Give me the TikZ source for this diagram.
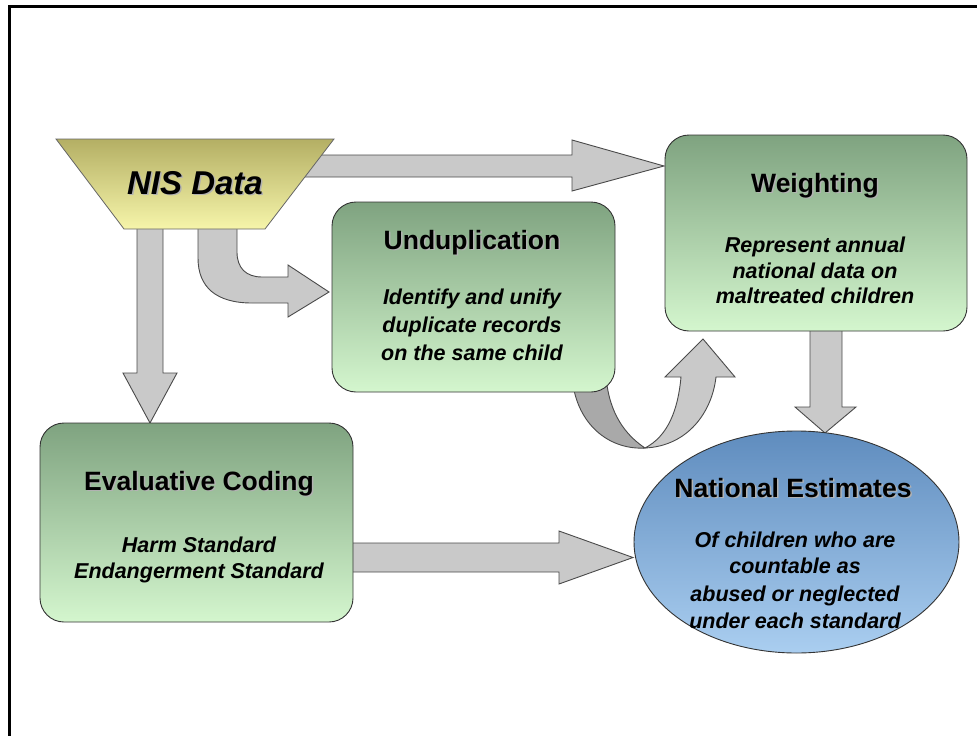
\documentclass[tikz,border=0pt]{standalone}
\usepackage{fontspec}
\setmainfont{Liberation Sans}
\usetikzlibrary{shapes.geometric}
\definecolor{gfill}{HTML}{C9C9C9}
\definecolor{gfilldark}{HTML}{A9A9A9}
\definecolor{gline}{HTML}{4A4A4A}
\definecolor{boxtop}{HTML}{7FA380}
\definecolor{boxbot}{HTML}{D4F6CE}
\definecolor{traptop}{HTML}{B4AF64}
\definecolor{trapbot}{HTML}{F6F5AA}
\definecolor{elltop}{HTML}{5F8CBE}
\definecolor{ellbot}{HTML}{AACEF0}
\tikzset{
  blockarrow/.style={fill=gfill, draw=gline, line width=0.9pt, line join=miter},
  greenbox/.style={draw=black!80, line width=0.9pt, rounded corners=24pt,
    top color=boxtop, bottom color=boxbot, inner sep=0pt},
  ttl/.style={font=\fontsize{26.5}{30}\selectfont\bfseries, anchor=base, inner sep=0pt},
  ttlsh/.style={ttl, text=black!30},
  bdy/.style={font=\fontsize{21.5}{27}\selectfont\bfseries\itshape, anchor=base, inner sep=0pt},
}
\begin{document}
\begin{tikzpicture}[x=1pt,y=-1pt]
\useasboundingbox (0,0) rectangle (977,736);
% frame (left and top only)
\draw[line width=3pt] (9.5,736) -- (9.5,6) -- (977,6);

% ---------- block arrows (behind the shapes) ----------
% NIS -> Weighting
\draw[blockarrow] (300,155) -- (572,155) -- (572,140) -- (664,166) -- (572,191) -- (572,177) -- (300,177) -- cycle;
% NIS -> Evaluative Coding
\draw[blockarrow] (137,225) -- (137,373) -- (123,373) -- (150,423) -- (177,373) -- (163,373) -- (163,225) -- cycle;
% NIS -> Unduplication (bent)
\draw[blockarrow] (198,225) -- (198,258) .. controls (198,287) and (216,303) .. (252,303)
  -- (288,303) -- (288,317) -- (329,292) -- (288,265) -- (288,277) -- (262,277)
  .. controls (246,277) and (237,268) .. (237,252) -- (237,225) -- cycle;
% Weighting -> National Estimates
\draw[blockarrow] (810,328) -- (810,407) -- (795,407) -- (825,433) -- (856,407) -- (842,407) -- (842,328) -- cycle;
% Evaluative Coding -> National Estimates
\draw[blockarrow] (350,543) -- (559,543) -- (559,531) -- (633,557.5) -- (559,584) -- (559,572) -- (350,572) -- cycle;
% Unduplication -> Weighting (U-turn)
\draw[blockarrow] (645,448) .. controls (688,446) and (712,412) .. (716,377) -- (735,377) -- (703,339)
  -- (665,377) -- (681,377) .. controls (678,410) and (668,436) .. (645,448) -- cycle;
\draw[blockarrow, fill=gfilldark] (573,385) .. controls (580,428) and (612,450) .. (645,448)
  .. controls (630,438) and (612,420) .. (607,385) -- cycle;

% ---------- NIS Data ----------
\path[draw=black!60, line width=0.8pt, top color=traptop, bottom color=trapbot]
  (56,139) -- (334,139) -- (265,229) -- (124,229) -- cycle;
\node[ttlsh, font=\fontsize{33}{36}\selectfont\bfseries\itshape] (nissh) at (196.5,195.5) {NIS Data};
\node[ttl, font=\fontsize{33}{36}\selectfont\bfseries\itshape] (nis) at (195,194) {NIS Data};

% ---------- Unduplication ----------
\node[greenbox, minimum width=283pt, minimum height=190pt] (undup) at (473.5,297) {};
\node[ttlsh] (undupsh) at (473.5,250.5) {Unduplication};
\node[ttl] (unduptitle) at (472,249) {Unduplication};
\node[bdy] (undup1) at (472,304) {Identify and unify};
\node[bdy] (undup2) at (472,332) {duplicate records};
\node[bdy] (undup3) at (472,360) {on the same child};

% ---------- Weighting ----------
\node[greenbox, minimum width=302pt, minimum height=196pt] (weight) at (816,233) {};
\node[ttlsh] (weightsh) at (816.5,193.5) {Weighting};
\node[ttl] (weighttitle) at (815,192) {Weighting};
\node[bdy] (weight1) at (815,252) {Represent annual};
\node[bdy] (weight2) at (815,278) {national data on};
\node[bdy] (weight3) at (815,303) {maltreated children};

% ---------- Evaluative Coding ----------
\node[greenbox, minimum width=313pt, minimum height=199pt] (evalc) at (196.5,522.5) {};
\node[ttlsh] (evalsh) at (200.5,491.5) {Evaluative Coding};
\node[ttl] (evaltitle) at (199,490) {Evaluative Coding};
\node[bdy] (eval1) at (199,552) {Harm Standard};
\node[bdy] (eval2) at (199,578) {Endangerment Standard};

% ---------- National Estimates ----------
\node[ellipse, draw=black!80, line width=0.9pt, top color=elltop, bottom color=ellbot,
  minimum width=325pt, minimum height=222pt, inner sep=0pt] (natest) at (796.5,542) {};
\node[ttlsh] (natsh) at (794.5,498.5) {National Estimates};
\node[ttl] (nattitle) at (793,497) {National Estimates};
\node[bdy] (nat1) at (795,547) {Of children who are};
\node[bdy] (nat2) at (795,573) {countable as};
\node[bdy] (nat3) at (795,601) {abused or neglected};
\node[bdy] (nat4) at (795,628) {under each standard};
\end{tikzpicture}
\end{document}
